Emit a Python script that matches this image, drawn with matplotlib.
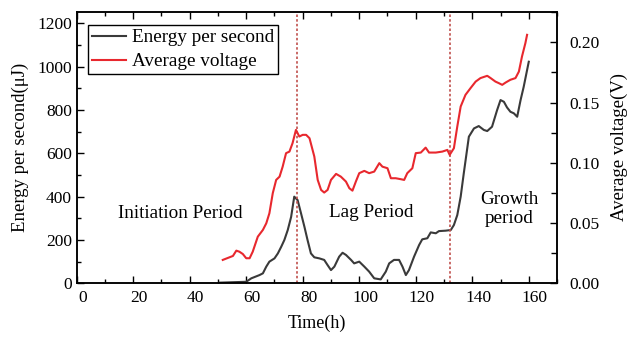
import matplotlib
matplotlib.use("Agg")
import matplotlib.pyplot as plt
import matplotlib.transforms as mtransforms
from matplotlib.ticker import MultipleLocator

plt.rcParams['font.family'] = ['Liberation Serif', 'DejaVu Serif']
plt.rcParams['mathtext.fontset'] = 'stix'

# energy per second (uJ) vs time (h)
t_energy = [50.6, 60.0, 61.8, 64.7, 65.9, 67.1, 68.2, 70.0, 71.2, 72.4, 73.5, 74.7,
            75.9, 77.0, 78.2, 79.4, 80.6, 81.7, 82.9, 84.1, 85.9, 87.6, 88.8, 90.0,
            91.2, 92.9, 94.1, 95.3, 97.1, 98.2, 100.0, 101.8, 103.5, 105.3, 107.6,
            109.4, 110.6, 112.3, 114.1, 115.3, 116.5, 117.6, 119.4, 121.2, 122.3,
            124.1, 125.3, 127.1, 128.2, 130.6, 132.4, 133.5, 134.7, 135.9, 137.0,
            138.8, 140.6, 142.3, 144.1, 145.3, 147.0, 148.8, 150.0, 151.2, 152.3,
            153.5, 154.7, 155.9, 157.1, 158.2, 160.0]
energy = [3, 7, 23, 38, 46, 77, 100, 115, 138, 169, 200, 246,
          307, 400, 384, 323, 261, 200, 138, 120, 115, 108, 84, 61,
          77, 123, 141, 131, 108, 92, 100, 77, 54, 23, 18,
          54, 92, 108, 108, 77, 38, 61, 123, 177, 203,
          208, 235, 231, 241, 243, 246, 269, 315, 400, 508,
          677, 715, 726, 708, 703, 723, 800, 846, 838, 812,
          792, 785, 769, 846, 907, 1023]

# average voltage (V) vs time (h)
t_volt = [51.7, 54.1, 55.3, 56.5, 57.6, 58.8, 60.0, 61.2, 62.3, 64.1, 65.9, 67.1,
          68.2, 69.4, 70.6, 71.8, 72.9, 74.1, 75.3, 76.4, 77.6, 78.8, 80.0, 81.2,
          82.4, 84.1, 85.3, 86.5, 87.6, 88.8, 90.0, 91.8, 93.5, 95.3, 96.5, 97.6,
          98.8, 100.0, 101.8, 103.5, 105.3, 107.1, 108.2, 110.0, 111.2, 112.9,
          114.7, 115.9, 117.0, 118.8, 120.0, 121.8, 123.5, 124.7, 127.1, 129.4,
          131.2, 132.0, 133.5, 134.7, 135.9, 137.6, 139.4, 141.2, 142.9, 145.3,
          146.5, 148.2, 149.4, 150.6, 151.8, 153.5, 155.3, 156.5, 157.6, 158.8, 159.4]
voltage = [0.0194, 0.0216, 0.0227, 0.0271, 0.0262, 0.0243, 0.0208, 0.0208, 0.0262,
           0.0387, 0.0443, 0.0498, 0.0581, 0.0748, 0.0858, 0.0885, 0.0968, 0.1080,
           0.1093, 0.1163, 0.1273, 0.1218, 0.1232, 0.1232, 0.1204, 0.1052, 0.0858,
           0.0775, 0.0753, 0.0775, 0.0858, 0.0908, 0.0885, 0.0844, 0.0789, 0.0769,
           0.0844, 0.0914, 0.0933, 0.0914, 0.0927, 0.0997, 0.0968, 0.0955, 0.0872,
           0.0872, 0.0864, 0.0858, 0.0914, 0.0955, 0.1080, 0.1085, 0.1126, 0.1085,
           0.1085, 0.1093, 0.1107, 0.1066, 0.1121, 0.1301, 0.1467, 0.1564, 0.1620,
           0.1674, 0.1703, 0.1722, 0.1703, 0.1674, 0.1661, 0.1647, 0.1666, 0.1689,
           0.1703, 0.1757, 0.1882, 0.1993, 0.2062]

# period boundaries (h)
boundaries = [77.9, 132.1]

fig = plt.figure(figsize=(6.27, 3.39), dpi=100)
ax = fig.add_axes([0.1223, 0.1643, 0.7661, 0.8012])
ax2 = ax.twinx()

l1, = ax.plot(t_energy, energy, color='#3a3a3a', lw=1.5, label='Energy per second')
l2, = ax2.plot(t_volt, voltage, color='#e8282e', lw=1.5, label='Average voltage')
for b in boundaries:
    ax.axvline(b, color='#c0504d', lw=1.2, ls=(0, (1.5, 1.3)))

ax.set_xlim(0, 170)
ax.set_ylim(0, 1254)
ax2.set_ylim(0, 0.2254)

ax.xaxis.set_major_locator(MultipleLocator(20))
ax.xaxis.set_minor_locator(MultipleLocator(10))
ax.yaxis.set_major_locator(MultipleLocator(200))
ax.yaxis.set_minor_locator(MultipleLocator(100))
ax2.yaxis.set_major_locator(MultipleLocator(0.05))
ax2.yaxis.set_minor_locator(MultipleLocator(0.025))
ax2.yaxis.set_major_formatter(plt.FormatStrFormatter('%.2f'))

for a in (ax, ax2):
    for s in a.spines.values():
        s.set_linewidth(1.1)
ax.tick_params(axis='x', which='both', direction='in', top=True, labelsize=12.5, pad=5)
ax.tick_params(axis='y', which='both', direction='in', labelsize=12.5, pad=3.5)
ax.tick_params(which='major', length=5, width=1.0)
ax.tick_params(which='minor', length=3, width=1.0)
ax2.tick_params(axis='y', which='both', direction='in', labelsize=12.5, pad=9)
ax2.tick_params(which='major', length=5, width=1.0)
ax2.tick_params(which='minor', length=4, width=1.0)

# shift the time labels slightly right
shift = mtransforms.ScaledTranslation(6 / 100, 0, fig.dpi_scale_trans)
for lab in ax.get_xticklabels():
    lab.set_transform(lab.get_transform() + shift)

ax.set_xlabel('Time(h)', fontsize=13, labelpad=6)
ax.set_ylabel('Energy per second(μJ)', fontsize=13.5, labelpad=6)
ax2.set_ylabel('Average voltage(V)', fontsize=13.5, labelpad=8)

ax.text(36.5, 320, 'Initiation Period', fontsize=13.8, ha='center', va='center')
ax.text(104.2, 329, 'Lag Period', fontsize=13.8, ha='center', va='center')
ax.text(153, 345, 'Growth\nperiod', fontsize=13.8, ha='center', va='center', linespacing=1.15)

leg = ax2.legend(handles=[l1, l2], loc='upper left', bbox_to_anchor=(0.0242, 0.951),
                 borderaxespad=0, fontsize=13.8, frameon=True, fancybox=False,
                 edgecolor='black', borderpad=0.2, handlelength=1.75,
                 handletextpad=0.35, labelspacing=0.35)
leg.get_frame().set_linewidth(1.0)
leg.get_frame().set_alpha(1)

fig.savefig('out.png', dpi=100)
